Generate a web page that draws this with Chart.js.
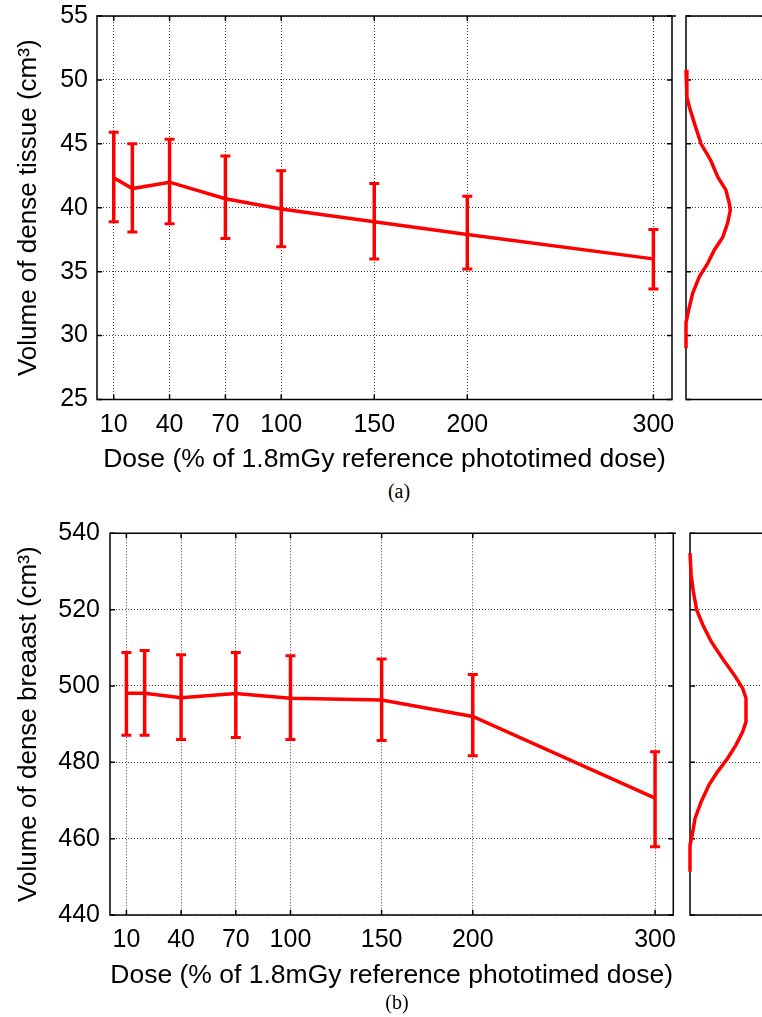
<!DOCTYPE html>
<html>
<head>
<meta charset="utf-8">
<script src="https://cdn.jsdelivr.net/npm/chart.js@4.4.0/dist/chart.umd.min.js"></script>
<style>
  body { margin: 0; width: 762px; height: 1017px; overflow: hidden; background: #fff; }
  canvas { position: absolute; }
  .cap { position: absolute; width: 60px; margin-left: -30px; text-align: center;
         font: 20px "Liberation Serif", "Times New Roman", serif; color: #000; }
</style>
</head>
<body>
<canvas id="mainA" width="676" height="480" style="left:0;top:0"></canvas>
<canvas id="sideA" width="86" height="480" style="left:676px;top:0"></canvas>
<div class="cap" style="left:399px;top:480px">(a)</div>
<canvas id="mainB" width="676" height="480" style="left:0;top:517px"></canvas>
<canvas id="sideB" width="86" height="480" style="left:676px;top:517px"></canvas>
<div class="cap" style="left:397px;top:991px">(b)</div>
<script>
const dose = [10, 20, 40, 70, 100, 150, 200, 300];
const doseTicks = [10, 40, 70, 100, 150, 200, 300];

// (a) dense tissue volume, cm3
const tissueMean = [42.35, 41.5, 42.0, 40.7, 39.9, 38.9, 37.9, 36.0];
const tissueUpper = [45.9, 45.0, 45.35, 44.05, 42.9, 41.9, 40.9, 38.3];
const tissueLower = [38.9, 38.1, 38.75, 37.6, 36.95, 36.0, 35.2, 33.65];

// (b) dense breast volume, cm3
const breastMean = [498.1, 498.1, 496.9, 498.0, 496.8, 496.3, 492.0, 470.6];
const breastUpper = [508.8, 509.3, 508.2, 508.8, 507.9, 507.1, 503.0, 482.8];
const breastLower = [487.1, 487.1, 486.0, 486.5, 486.0, 485.7, 481.7, 457.9];

// distributions on the side panels (relative density against volume)
const tissueDistVol = [50.8, 48.7, 47.9, 46.6, 45.0, 43.7, 42.4, 41.4, 40.3, 39.8, 38.8, 37.7, 36.7, 35.65, 34.6, 33.3, 32.0, 31.0, 29.0];
const tissueDistDens = [0, 0.02, 0.075, 0.19, 0.34, 0.56, 0.72, 0.90, 0.98, 1.0, 0.94, 0.83, 0.64, 0.49, 0.30, 0.15, 0.06, 0, 0];
const breastDistVol = [534.8, 529.1, 524.7, 519.9, 516.0, 511.6, 507.2, 502.9, 499.4, 496.8, 490.6, 488.0, 484.5, 481.0, 477.5, 474.1, 469.7, 465.3, 461.0, 458.3, 451.3];
const breastDistDens = [0, 0.02, 0.06, 0.12, 0.23, 0.38, 0.58, 0.79, 0.94, 1.0, 1.0, 0.94, 0.82, 0.67, 0.49, 0.34, 0.20, 0.09, 0.04, 0, 0];

Chart.defaults.font.family = '"Liberation Sans", Arial, sans-serif';
Chart.defaults.color = '#000';
Chart.defaults.animation = false;

const RED = '#ff0000';
const GRID = '#444';

// no extra room for half labels sticking out of the axes
const noOverhang = s => {
  s.paddingTop = 0;
  s.paddingBottom = 0;
  s.paddingLeft = 0;
  s.paddingRight = 0;
};

// black box with inward ticks, like matlab axes
const framePlugin = (full) => ({
  id: 'frame',
  beforeDatasetsDraw(chart) {
    const { ctx, chartArea: a, scales } = chart;
    ctx.save();
    ctx.strokeStyle = '#000';
    ctx.lineWidth = 1.5;
    ctx.beginPath();
    ctx.moveTo(chart.width, a.top);
    ctx.lineTo(a.left, a.top);
    ctx.lineTo(a.left, a.bottom);
    ctx.lineTo(full ? a.right : chart.width, a.bottom);
    if (full) ctx.lineTo(a.right, a.top);
    ctx.stroke();

    ctx.beginPath();
    scales.y.ticks.forEach(t => {
      const py = scales.y.getPixelForValue(t.value);
      ctx.moveTo(a.left, py);
      ctx.lineTo(a.left + 5, py);
      if (full) {
        ctx.moveTo(a.right, py);
        ctx.lineTo(a.right - 5, py);
      }
    });
    if (full) {
      doseTicks.forEach(v => {
        const px = scales.x.getPixelForValue(v);
        ctx.moveTo(px, a.bottom);
        ctx.lineTo(px, a.bottom - 5);
        ctx.moveTo(px, a.top);
        ctx.lineTo(px, a.top + 5);
      });
    }
    ctx.stroke();
    ctx.restore();
  }
});

const errorBars = (upper, lower) => ({
  id: 'errorBars',
  afterDatasetsDraw(chart) {
    const { ctx, scales: { x, y } } = chart;
    ctx.save();
    ctx.strokeStyle = RED;
    upper.forEach((hi, i) => {
      const px = x.getPixelForValue(dose[i]);
      const top = y.getPixelForValue(hi);
      const bot = y.getPixelForValue(lower[i]);
      ctx.lineWidth = 3.5;
      ctx.beginPath();
      ctx.moveTo(px, top);
      ctx.lineTo(px, bot);
      ctx.stroke();
      ctx.lineWidth = 3;
      ctx.beginPath();
      ctx.moveTo(px - 5, top);
      ctx.lineTo(px + 5, top);
      ctx.moveTo(px - 5, bot);
      ctx.lineTo(px + 5, bot);
      ctx.stroke();
    });
    ctx.restore();
  }
});

function mainChart(id, mean, upper, lower, yMin, yMax, yStep, yTitle, lay) {
  return new Chart(document.getElementById(id), {
    type: 'line',
    data: {
      datasets: [{
        data: dose.map((d, i) => ({ x: d, y: mean[i] })),
        borderColor: RED,
        borderWidth: 3.5,
        pointRadius: 0,
        tension: 0
      }]
    },
    plugins: [framePlugin(true), errorBars(upper, lower)],
    options: {
      responsive: false,
      layout: { padding: { top: lay.top, right: lay.right, left: 0, bottom: 0 } },
      plugins: { legend: { display: false }, tooltip: { enabled: false } },
      scales: {
        x: {
          type: 'linear',
          min: 1,
          max: 310,
          afterBuildTicks: s => { s.ticks = doseTicks.map(v => ({ value: v })); },
          afterFit: s => { s.height = lay.xHeight; noOverhang(s); },
          ticks: { font: { size: 25 }, padding: 10.5, maxRotation: 0, autoSkip: false },
          grid: { color: GRID, lineWidth: 1, drawTicks: false },
          border: { display: false, dash: [1, 2] },
          title: {
            display: true,
            text: 'Dose (% of 1.8mGy reference phototimed dose)',
            font: { size: 26.5 },
            padding: { top: 0, bottom: lay.xTitlePad }
          }
        },
        y: {
          min: yMin,
          max: yMax,
          afterFit: s => { s.width = lay.yWidth; noOverhang(s); },
          ticks: { stepSize: yStep, font: { size: 25 }, padding: lay.yPad },
          grid: { color: GRID, lineWidth: 1, drawTicks: false },
          border: { display: false, dash: [1, 2] },
          title: {
            display: true,
            text: yTitle,
            font: { size: 26 },
            padding: { top: 13, bottom: 0 }
          }
        }
      }
    }
  });
}

function sideChart(id, vol, dens, yMin, yMax, yStep, xMax, lay) {
  return new Chart(document.getElementById(id), {
    type: 'scatter',
    data: {
      datasets: [{
        data: vol.map((v, i) => ({ x: dens[i], y: v })),
        showLine: true,
        borderColor: RED,
        borderWidth: 3.5,
        pointRadius: 0,
        tension: 0,
        clip: false
      }]
    },
    plugins: [framePlugin(false)],
    options: {
      responsive: false,
      layout: { padding: { top: lay.top, left: lay.left, right: 0, bottom: lay.bottom } },
      plugins: { legend: { display: false }, tooltip: { enabled: false } },
      scales: {
        x: { display: false, min: 0, max: xMax },
        y: {
          min: yMin,
          max: yMax,
          afterFit: s => { s.width = 0; noOverhang(s); },
          ticks: { stepSize: yStep, display: false },
          grid: { color: GRID, lineWidth: 1, drawTicks: false },
          border: { display: false, dash: [1, 2] }
        }
      }
    }
  });
}

mainChart('mainA', tissueMean, tissueUpper, tissueLower, 25, 55, 5,
  'Volume of dense tissue (cm³)',
  { top: 16, right: 4, xHeight: 80.5, yWidth: 97, yPad: 9, xTitlePad: 4.2 });
sideChart('sideA', tissueDistVol, tissueDistDens, 25, 55, 5, 1.716,
  { top: 16, left: 10, bottom: 80.5 });

mainChart('mainB', breastMean, breastUpper, breastLower, 440, 540, 20,
  'Volume of dense breaast (cm³)',
  { top: 16.3, right: 2.7, xHeight: 82, yWidth: 110, yPad: 10, xTitlePad: 5.7 });
sideChart('sideB', breastDistVol, breastDistDens, 440, 540, 20, 1.286,
  { top: 16.3, left: 14, bottom: 82 });
</script>
</body>
</html>
